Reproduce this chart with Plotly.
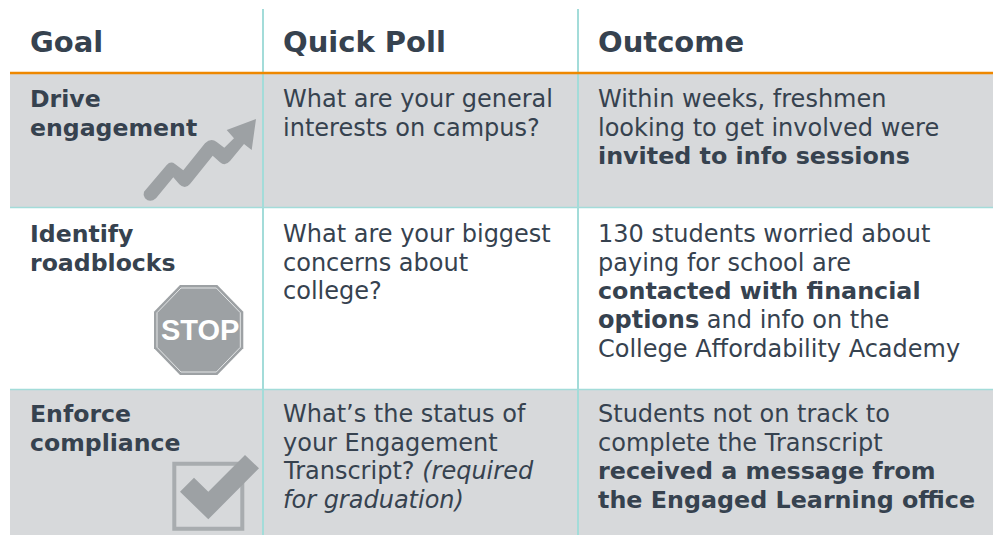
import plotly.graph_objects as go

headers = ["Goal", "Quick Poll", "Outcome"]
goal_lines = [["Drive", "engagement"], ["Identify", "roadblocks"], ["Enforce", "compliance"]]
poll_lines = [
    ["What are your general", "interests on campus?"],
    ["What are your biggest", "concerns about", "college?"],
    ["What’s the status of", "your Engagement", "Transcript? <i>(required</i>", "<i>for graduation)</i>"],
]
outcome_lines = [
    ["Within weeks, freshmen", "looking to get involved were", "<b>invited to info sessions</b>"],
    ["130 students worried about", "paying for school are", "<b>contacted with financial</b>",
     "<b>options</b> and info on the", "College Affordability Academy"],
    ["Students not on track to", "complete the Transcript", "<b>received a message from</b>",
     "<b>the Engaged Learning office</b>"],
]

W, H = 993, 535
FONT = "DejaVu Sans"
INK = "#36424f"
GREY = "#d7d9db"
TEAL = "#a3dcd9"
ORANGE = "#ee8800"
ICON = "#9da1a4"
COL_X = [30, 283, 598]
ROW_Y = [99, 234, 414]
PITCH = 28.7

shapes, ann = [], []
def rect(x0, y0, x1, y1, fill, line=None, lw=0):
    shapes.append(dict(type="rect", x0=x0, y0=y0, x1=x1, y1=y1, fillcolor=fill,
                       line=dict(color=line or fill, width=lw), layer="below"))
def hline(x0, y0, x1, y1, color, w):
    shapes.append(dict(type="line", x0=x0, y0=y0, x1=x1, y1=y1, line=dict(color=color, width=w), layer="below"))
def path(d, fill="rgba(0,0,0,0)", line=None, lw=0):
    shapes.append(dict(type="path", path=d, fillcolor=fill, line=dict(color=line or fill, width=lw), layer="below"))
def text(x, y, s, size, bold=False, color=INK, family=FONT, anchor="left"):
    ann.append(dict(x=x, y=y, xref="x", yref="y", text=f"<b>{s}</b>" if bold else s, showarrow=False,
                    xanchor=anchor, yanchor="middle", align="left", borderpad=0, borderwidth=0,
                    font=dict(family=family, size=size, color=color)))

rect(10, 74, W, 207, GREY)
rect(10, 390, W, H, GREY)
hline(10, 207.5, W, 207.5, TEAL, 1.5)
hline(10, 389.5, W, 389.5, TEAL, 1.5)
hline(263, 9, 263, H, TEAL, 2)
hline(578, 9, 578, H, TEAL, 2)
hline(10, 73, W, 73, ORANGE, 2.5)

def body_size(s):
    return 23.8 if s.startswith("<b>") and s.endswith("</b>") else 24

for x, h in zip(COL_X, headers):
    text(x, 42, h, 29, bold=True)
for r in range(3):
    for i, s in enumerate(goal_lines[r]):
        text(COL_X[0], ROW_Y[r] + i * PITCH, s, 23.6, bold=True)
    for i, s in enumerate(poll_lines[r]):
        text(COL_X[1], ROW_Y[r] + i * PITCH, s, 24)
    for i, s in enumerate(outcome_lines[r]):
        text(COL_X[2], ROW_Y[r] + i * PITCH, s, body_size(s))

o = (130, 60)
def P(a, b): return f"{o[0]+a/3:.1f},{o[1]+b/3:.1f}"
arrow = (f"M{P(42,395)} L{P(110,315)} Q{P(122,302)} {P(135,312)} L{P(160,331)} L{P(225,250)} "
         f"Q{P(243,232)} {P(260,246)} L{P(283,263)} L{P(312,235)} L{P(290,210)} L{P(378,177)} "
         f"L{P(365,270)} L{P(342,252)} L{P(300,303)} Q{P(285,320)} {P(270,307)} L{P(248,287)} "
         f"L{P(180,372)} Q{P(165,390)} {P(148,373)} L{P(130,352)} L{P(78,415)} Q{P(60,430)} {P(45,415)} "
         f"Q{P(38,405)} {P(42,395)} Z")
path(arrow, fill=ICON)
o = (130, 270)
octo = [(150,45),(262,45),(340,125),(340,235),(262,315),(150,315),(72,235),(72,125)]
path("M" + " L".join(P(*p) for p in octo) + " Z", fill=ICON)
inner = [(153,54),(259,54),(331,128),(331,232),(259,306),(153,306),(81,232),(81,128)]
path("M" + " L".join(P(*p) for p in inner) + " Z", line="#e4e6e7", lw=1)
text(199.5, 330, "<b>STOP</b>", 29, color="white", family="Liberation Sans", anchor="center")
o = (130, 430)
box = [(133,101),(337,101),(337,296),(133,296)]
path("M" + " L".join(P(*p) for p in box) + " Z", line="#a8acaf", lw=4)
check = [(345,75),(387,115),(235,268),(150,185),(192,143),(235,185)]
path("M" + " L".join(P(*p) for p in check) + " Z", fill=ICON)

fig = go.Figure()
fig.update_layout(
    width=W, height=H, margin=dict(l=0, r=0, t=0, b=0), showlegend=False,
    paper_bgcolor="white", plot_bgcolor="white", shapes=shapes, annotations=ann,
    xaxis=dict(range=[0, W], visible=False, fixedrange=True),
    yaxis=dict(range=[H, 0], visible=False, fixedrange=True),
)
fig.write_html("out.html", config=dict(displayModeBar=False),
               post_script="document.body.style.margin='0';document.body.style.overflow='hidden';")
